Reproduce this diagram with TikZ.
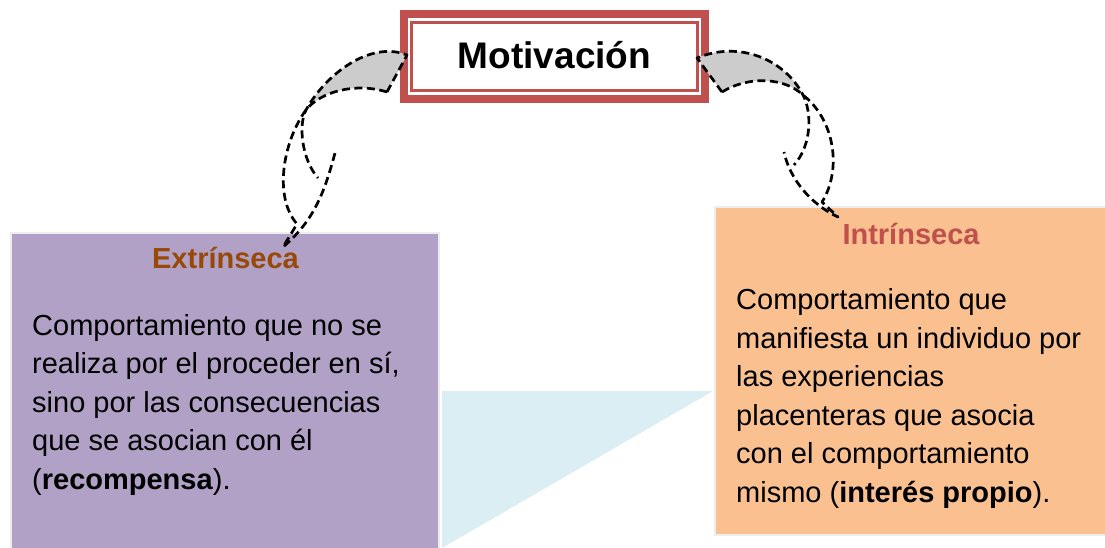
\documentclass[tikz,border=0pt]{standalone}
\usepackage{fontspec}
\setmainfont{Liberation Sans}
\usepackage{xcolor}
\usetikzlibrary{positioning, calc}
\definecolor{lavender}{HTML}{B2A1C7}
\definecolor{peach}{HTML}{FAC090}
\definecolor{paleblue}{HTML}{DAEEF3}
\definecolor{rust}{HTML}{984807}
\definecolor{brick}{HTML}{C0504D}
\definecolor{ribbongray}{HTML}{CCCCCC}

\begin{document}
\begin{tikzpicture}[x=1pt, y=-1pt,
  ribbon/.style={draw=black, line width=2.7pt, dash pattern=on 8pt off 4.5pt, line join=round},
  card/.style={draw=black!7, line width=2pt, anchor=north west, inner sep=0pt, outer sep=0pt},
  cardtitle/.style={font=\fontsize{29}{35}\selectfont\bfseries, anchor=base, inner sep=0pt},
  cardtext/.style={font=\fontsize{29}{38.5}\selectfont, align=left, anchor=base west, inner sep=0pt}]
\useasboundingbox (0,0) rectangle (1105,548);

\fill[paleblue] (442,391) -- (713,391) -- (442,548) -- cycle;

\node[card, fill=lavender, minimum width=428pt, minimum height=322pt] (extbox) at (11,233) {};
\node[card, fill=peach, minimum width=392pt, minimum height=328pt] (intbox) at (715,207) {};

\node[cardtitle, text=rust] (exttitle) at (225.5,268) {Extrínseca};
\node[cardtext] (exttext) at (32,489) {Comportamiento que no se\\realiza por el proceder en sí,\\sino por las consecuencias\\que se asocian con él\\(\textbf{recompensa}).};

\node[cardtitle, text=brick] (inttitle) at (911,244) {Intrínseca};
\node[cardtext] (inttext) at (736,502) {Comportamiento que\\manifiesta un individuo por\\las experiencias\\placenteras que asocia\\con el comportamiento\\mismo (\textbf{interés propio}).};

\node[draw=brick, line width=8pt, outer sep=0pt, inner sep=0pt, minimum width=301pt, minimum height=85pt,
  text height=24.5pt, text depth=0pt, font=\fontsize{37}{40}\selectfont\bfseries] (motiv) at (554.5,56.5) {Motivación};
\draw[brick, line width=2.5pt] ([shift={(7.5,8.5)}]motiv.north west) rectangle ([shift={(-7.5,-8.5)}]motiv.south east);

\fill[ribbongray] (407,55) .. controls (370,40) and (325,75) .. (306,110) .. controls (320,92) and (355,82) .. (387,92) -- cycle;
\draw[ribbon] (387,92) -- (407,55) .. controls (370,40) and (325,75) .. (306,110) .. controls (298,125) and (302,160) .. (318,178);
\draw[ribbon] (387,92) .. controls (355,82) and (320,92) .. (306,110) .. controls (285,138) and (272,195) .. (297,224) -- (283,247) .. controls (315,220) and (325,190) .. (335,153);

\fill[ribbongray] (697,58) .. controls (740,40) and (785,60) .. (803,95) .. controls (785,78) and (750,75) .. (722,92) -- cycle;
\draw[ribbon] (722,92) -- (697,58) .. controls (740,40) and (785,60) .. (803,95) .. controls (812,112) and (812,145) .. (794,165);
\draw[ribbon] (722,92) .. controls (750,75) and (785,78) .. (803,95) .. controls (835,120) and (842,170) .. (822,202) -- (838,217) .. controls (812,205) and (790,180) .. (784,152);
\end{tikzpicture}
\end{document}
